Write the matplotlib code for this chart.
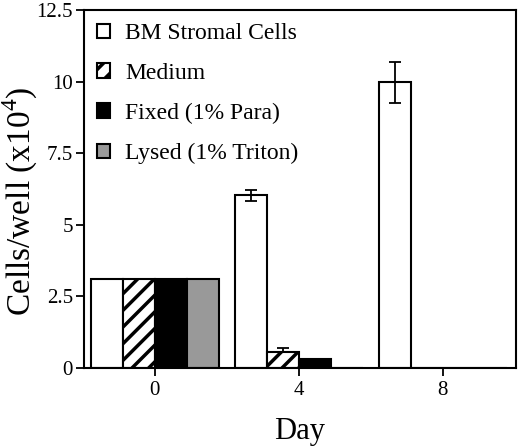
import matplotlib
matplotlib.use("Agg")
import matplotlib.pyplot as plt
import numpy as np

plt.rcParams['font.family'] = ['Liberation Serif', 'DejaVu Serif']
plt.rcParams['hatch.linewidth'] = 2.5
plt.rcParams['mathtext.fontset'] = 'custom'
plt.rcParams['mathtext.rm'] = 'Liberation Serif'

# data
days = [0, 4, 8]
labels = ["BM Stromal Cells", "Medium", "Fixed (1% Para)", "Lysed (1% Triton)"]
stromal = [3.1, 6.03, 9.97]
stromal_err = [0, 0.2, 0.7]
medium = [3.1, 0.55, 0]
medium_err = [0, 0.15, 0]
fixed = [3.1, 0.3, 0]
lysed = [3.1, 0, 0]

series = [stromal, medium, fixed, lysed]
faces = ['white', 'white', 'black', '#999999']
hatches = [None, '//', None, None]

fig = plt.figure(figsize=(5.2, 4.46), dpi=100)
ax = fig.add_axes([84/520, 78/446, 432/520, 358/446])

w = 0.89
x = np.array(days)
for i, vals in enumerate(series):
    off = (i - 1.5) * w
    ax.bar(x + off, vals, w, color=faces[i], edgecolor='black', linewidth=1.5,
           hatch=hatches[i], label=labels[i], zorder=2)

# error bars
ax.errorbar(x[1:] - 1.5 * w, stromal[1:], yerr=stromal_err[1:], fmt='none',
            ecolor='black', elinewidth=1.3, capsize=4, capthick=1.3, zorder=3)
ax.errorbar([x[1] - 0.5 * w], [medium[1]], yerr=[[0], [medium_err[1]]], fmt='none',
            ecolor='black', elinewidth=1.3, capsize=4, capthick=1.3, zorder=3)

ax.set_xlim(-1.97, 10.03)
ax.set_ylim(0, 12.5)
ax.set_yticks([0, 2.5, 5, 7.5, 10, 12.5])
ax.set_yticklabels(["0", "2.5", "5", "7.5", "10", "12.5"])
ax.set_xticks(days)
ax.tick_params(direction='out', length=6, width=1.3, labelsize=15)
ax.tick_params(axis='y', pad=2)
for s in ax.spines.values():
    s.set_linewidth(1.5)

ax.set_ylabel("Cells/well (x10$^4$)", fontsize=24)
ax.yaxis.set_label_coords(-0.102, 0.466)
ax.set_xlabel("Day", fontsize=22, labelpad=12)

leg = ax.legend(loc='upper left', frameon=False, fontsize=17, handlelength=0.55,
                handleheight=0.55, handletextpad=0.64, labelspacing=0.8,
                borderaxespad=0.15)

fig.savefig("out.png", dpi=100)
